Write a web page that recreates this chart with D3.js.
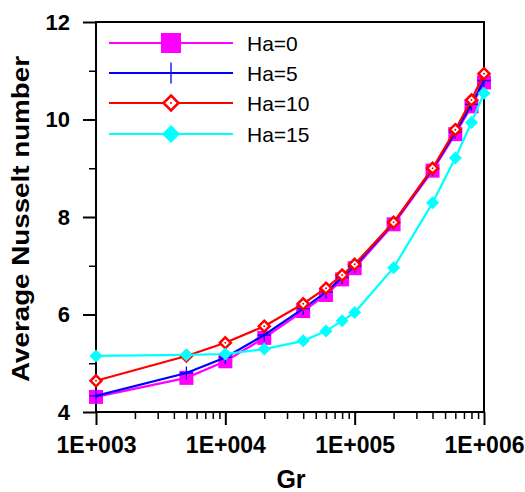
<!DOCTYPE html>
<html><head><meta charset="utf-8">
<script src="https://cdn.jsdelivr.net/npm/d3@7"></script>
<style>body{margin:0;background:#fff}svg{display:block}</style>
</head><body>
<svg id="c" width="525" height="492"></svg>
<script>
const grValues = [1e3,5e3,1e4,2e4,4e4,6e4,8e4,1e5,2e5,4e5,6e5,8e5,1e6];
const ha0  = [4.31,4.70,5.04,5.52,6.07,6.40,6.72,6.95,7.85,8.95,9.70,10.27,10.76];
const ha5  = [4.33,4.80,5.12,5.58,6.12,6.46,6.76,6.99,7.88,8.98,9.74,10.31,10.80];
const ha10 = [4.64,5.15,5.42,5.76,6.22,6.54,6.81,7.03,7.89,9.00,9.79,10.40,10.94];
const ha15 = [5.15,5.17,5.19,5.29,5.46,5.66,5.87,6.04,6.96,8.29,9.21,9.94,10.54];
const seriesNames = ["Ha=0","Ha=5","Ha=10","Ha=15"];
const xTickLabels = ["1E+003","1E+004","1E+005","1E+006"];
const yTickValues = [4,6,8,10,12];

const series = [
  {name: seriesNames[0], vals: ha0,  color: "#FF00FF", marker: "square"},
  {name: seriesNames[1], vals: ha5,  color: "#0000FF", marker: "plus"},
  {name: seriesNames[2], vals: ha10, color: "#FF0000", marker: "odiamond"},
  {name: seriesNames[3], vals: ha15, color: "#00FFFF", marker: "diamond"}
];

const svg = d3.select("#c");
const L = 96, R = 484, T = 22, B = 412;
const x = d3.scaleLog().domain([1e3,1e6]).range([L,R]);
const y = d3.scaleLinear().domain([4,12]).range([B,T]);
const font = "Arial, 'Liberation Sans', sans-serif";

// frame
svg.append("rect").attr("x",L).attr("y",T).attr("width",R-L).attr("height",B-T)
  .attr("fill","none").attr("stroke","#000").attr("stroke-width",2);

// x axis ticks
const minorX = [];
for (let d = 1e3; d < 1e6; d *= 10) for (let k = 2; k <= 9; k++) minorX.push(k*d);
const xAx = svg.append("g").attr("transform",`translate(0,${B})`);
xAx.call(d3.axisBottom(x).tickValues(minorX).tickSize(7).tickFormat(""))
  .call(g=>g.select(".domain").remove())
  .call(g=>g.selectAll("line").attr("stroke-width",1.5));
xAx.append("g").call(d3.axisBottom(x).tickValues([1e3,1e4,1e5,1e6]).tickSize(13)
   .tickFormat((d,i)=>xTickLabels[i]).tickPadding(12))
  .call(g=>g.select(".domain").remove())
  .call(g=>g.selectAll("line").attr("stroke-width",2))
  .call(g=>g.selectAll("text").attr("font-family",font).attr("font-weight","bold")
     .attr("font-size",23).attr("fill","#000"));

// y axis ticks
const yAx = svg.append("g").attr("transform",`translate(${L},0)`);
yAx.call(d3.axisLeft(y).tickValues([5,7,9,11]).tickSize(7).tickFormat(""))
  .call(g=>g.select(".domain").remove())
  .call(g=>g.selectAll("line").attr("stroke-width",1.5));
yAx.append("g").call(d3.axisLeft(y).tickValues(yTickValues).tickSize(13).tickPadding(13)
   .tickFormat(d3.format("d")))
  .call(g=>g.select(".domain").remove())
  .call(g=>g.selectAll("line").attr("stroke-width",2))
  .call(g=>g.selectAll("text").attr("font-family",font).attr("font-weight","bold")
     .attr("font-size",22).attr("fill","#000"));

// axis titles
svg.append("text").attr("x",291).attr("y",488).attr("text-anchor","middle")
  .attr("font-family",font).attr("font-weight","bold").attr("font-size",25).text("Gr");
svg.append("text").attr("transform",`translate(29,219) rotate(-90)`)
  .attr("text-anchor","middle").attr("font-family",font).attr("font-weight","bold")
  .attr("font-size",24).attr("textLength",326).attr("lengthAdjust","spacingAndGlyphs")
  .text("Average Nusselt number");

function drawMarker(g, type, color, cx, cy, s) {
  if (type === "square") {
    g.append("rect").attr("x",cx-s/2).attr("y",cy-s/2).attr("width",s).attr("height",s)
      .attr("fill",color);
  } else if (type === "plus") {
    g.append("path").attr("d",`M${cx-s/2},${cy}H${cx+s/2}M${cx},${cy-s/2}V${cy+s/2}`)
      .attr("stroke",color).attr("stroke-width",1.3).attr("fill","none");
  } else if (type === "odiamond") {
    const h = s/2;
    g.append("path").attr("d",`M${cx},${cy-h}L${cx+h},${cy}L${cx},${cy+h}L${cx-h},${cy}Z`)
      .attr("fill","#fff").attr("stroke",color).attr("stroke-width",2.5);
    g.append("circle").attr("cx",cx).attr("cy",cy).attr("r",1).attr("fill",color);
  } else if (type === "diamond") {
    const h = s/2;
    g.append("path").attr("d",`M${cx},${cy-h}L${cx+h},${cy}L${cx},${cy+h}L${cx-h},${cy}Z`)
      .attr("fill",color);
  }
}
const plotSize = {square: 14, plus: 13, odiamond: 11, diamond: 13};
const legSize = {square: 20, plus: 21, odiamond: 15, diamond: 18};

const line = d3.line().x(d=>x(d[0])).y(d=>y(d[1]));
series.forEach(s => {
  const pts = grValues.map((g,i)=>[g, s.vals[i]]);
  const g = svg.append("g");
  g.append("path").datum(pts).attr("d",line).attr("fill","none")
    .attr("stroke",s.color).attr("stroke-width",2.2);
  pts.forEach(p => drawMarker(g, s.marker, s.color, x(p[0]), y(p[1]), plotSize[s.marker]));
});

// legend
const legY = [43, 73, 103, 134];
series.forEach((s,i) => {
  const g = svg.append("g");
  g.append("line").attr("x1",109).attr("x2",233).attr("y1",legY[i]).attr("y2",legY[i])
    .attr("stroke",s.color).attr("stroke-width",2.2);
  drawMarker(g, s.marker, s.color, 171, legY[i], legSize[s.marker]);
  g.append("text").attr("x",247).attr("y",legY[i]).attr("dy","0.36em")
    .attr("font-family",font).attr("font-size",21).text(s.name);
});
</script>
</body></html>
